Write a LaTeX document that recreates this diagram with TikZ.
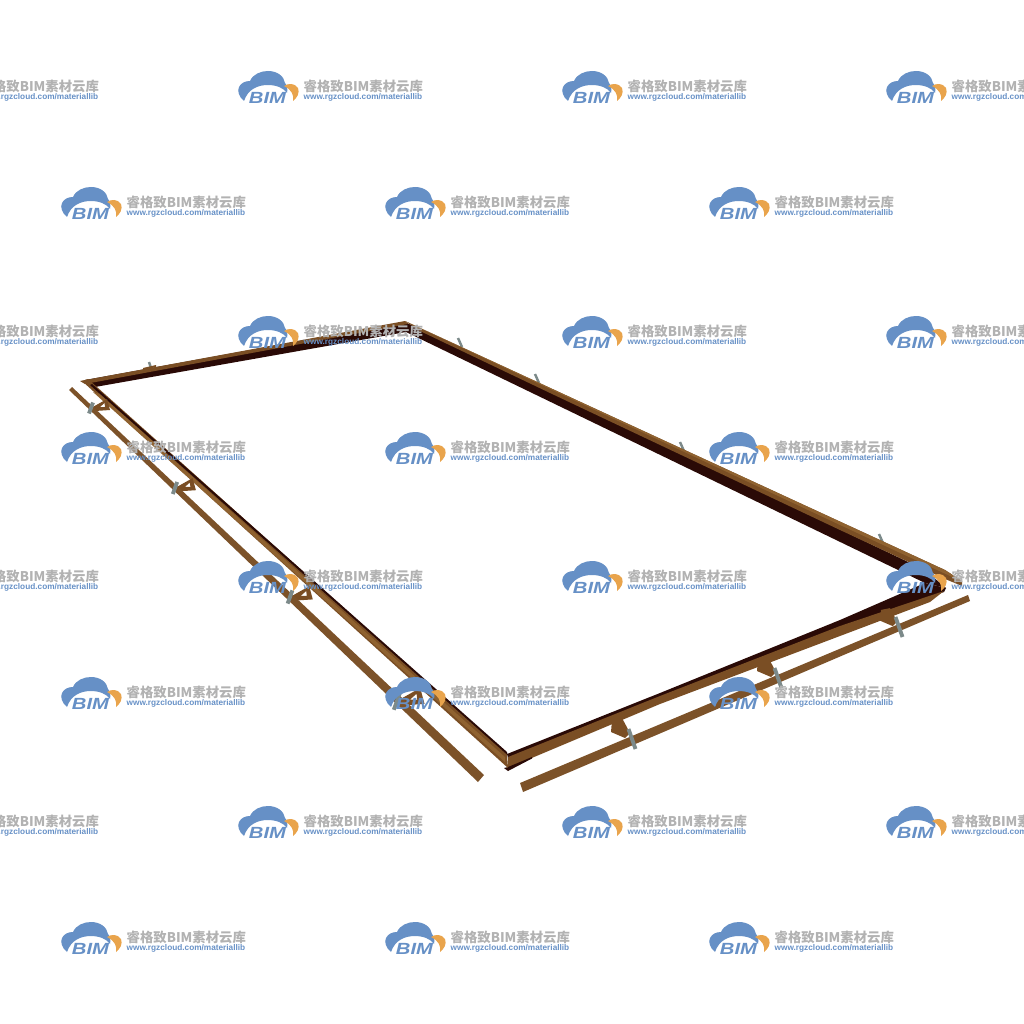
\documentclass[tikz,border=0pt]{standalone}
\usepackage{fontspec}
\newfontfamily\wmfont{Liberation Sans}
\newfontfamily\wmcjk{Noto Sans CJK SC}
\definecolor{beamdark}{HTML}{2A0A06}
\definecolor{beambrown}{HTML}{7A4E24}
\definecolor{beamlight}{HTML}{8F6230}
\definecolor{railbrown}{HTML}{7C5229}
\definecolor{boltgray}{HTML}{7C8A8A}
\definecolor{wmblue}{HTML}{6690C6}
\definecolor{wmorange}{HTML}{E9A44C}
\definecolor{wmgray}{HTML}{B2B2B2}
\tikzset{
  bolt/.style={draw=boltgray,line width=1.1pt},
  stub/.style={draw=boltgray,line width=.7pt},
  wmcn/.style={anchor=west,inner sep=0pt,text=wmgray,font=\wmcjk\bfseries\fontsize{3.8}{4}\selectfont},
  wmurl/.style={anchor=west,inner sep=0pt,text=wmblue,font=\wmfont\bfseries\fontsize{2.35}{3}\selectfont},
  wmbim/.style={inner sep=0pt,text=wmblue,xscale=1.25,font=\wmfont\bfseries\itshape\fontsize{4.6}{5}\selectfont},
  watermark/.pic={
    \fill[wmblue] (6,30) .. controls (1,26) and (-1,20) .. (1,16)
      .. controls (3,12) and (7,10) .. (12,10) .. controls (15,3) and (23,0) .. (30,0)
      .. controls (39,0) and (46,5) .. (47,12) .. controls (49,14) and (50,18) .. (49,22)
      .. controls (46,17) and (38,14) .. (30,14) .. controls (20,14) and (10,18) .. (6,30) -- cycle;
    \fill[wmorange] (46,15) .. controls (50,12) and (57,12) .. (60,17)
      .. controls (62,22) and (59,27) .. (55,30) .. controls (56,24) and (54,19) .. (46,15) -- cycle;
    \node[wmbim] (bim) at (29.5,27) {BIM};
    \node[wmcn] (cn) at (65,15.5) {睿格致BIM素材云库};
    \node[wmurl] (url) at (65,26) {www.rgzcloud.com/materiallib};
  }
}
\begin{document}
\begin{tikzpicture}[x=0.1mm,y=-0.1mm]
  \useasboundingbox (0,0) rectangle (1024,1024);
  \clip (0,0) rectangle (1024,1024);

  % stubs behind the far beams
  \draw[stub] (149,362) -- (151,368);
  \foreach \sx/\sy in {458/338,535/374,680/442,879/534}
    \draw[stub] (\sx,\sy) -- ++(4,9);

  % far beams
  \fill[beamdark] (85,380) -- (405,322) -- (925,570) -- (946,588) -- (925,583) -- (406,332) -- (95,387) -- cycle;
  \fill[beambrown] (80,381) -- (405,321) -- (408,324) -- (85,384) -- cycle;
  \fill[beambrown] (143,368) -- (156,365) -- (156,367) -- (143,370) -- cycle;
  \fill[beambrown] (405,321) -- (945,570) -- (962,581) -- (962,586) -- (945,579) -- (840,530) -- (550,393) -- (420,331) -- cycle;
  \fill[beamlight] (405,321) -- (945,570) -- (962,581) -- (950,576) -- (840,525) -- (550,389) -- cycle;

  % near beams
  \fill[beamdark] (925,583) -- (946,588) -- (944,592) -- (840,627) -- (660,697) -- (508,758) -- (507,754) -- (660,693) -- (840,620) -- cycle;
  \fill[beambrown] (508,757) -- (660,696) -- (840,626) -- (944,591) -- (930,602) -- (840,636) -- (660,704) -- (508,768) -- cycle;
  \fill[beamdark] (508,767) -- (532,757) -- (532,758.5) -- (508,771) -- (504,768) -- cycle;
  \fill[beambrown] (82,381) -- (88,379) -- (507,754) -- (508,768) -- cycle;
  \fill[beamlight] (93,392) -- (100,394) -- (505,757) -- (505,762) -- cycle;
  \fill[beamdark] (92,384) -- (507,752) -- (507.5,755) -- (90,385) -- cycle;

  % braces on the left
  \foreach \bx/\by/\bs in {91/408/1,175/488/1.1,290/597/1.2,397/701/1.45} {
    \begin{scope}[shift={(\bx,\by)},scale=\bs]
      \fill[beambrown,even odd rule] (0,0) -- (4,3) -- (19,2) -- (16,-9) -- cycle
        (9,-1) -- (14,-1) -- (13.5,-5) -- cycle;
    \end{scope}
  }

  % braces on the right
  \foreach \bx/\by/\bs in {632/739/1,778/678/1,899/627/.9} {
    \begin{scope}[shift={(\bx,\by)},scale=\bs]
      \fill[beambrown] (-20,-19) -- (-10,-21) -- (-2,-6) -- (-7,-1) -- (-21,-7) -- cycle;
    \end{scope}
  }

  % rails
  \fill[railbrown] (69,390) -- (72,387) -- (484,775) -- (478,782) -- cycle;
  \fill[railbrown] (520,783) -- (968,595) -- (970,601) -- (523,792) -- cycle;

  % bolts
  \foreach \bx/\by/\bs in {91/408/1,175/488/1.1,290/597/1.2,397/701/1.6}
    \draw[bolt] (\bx,\by) ++(-2*\bs,5.5*\bs) -- ++(4*\bs,-11*\bs);
  \foreach \bx/\by in {632/739,778/678,899/627}
    \draw[bolt] (\bx,\by) ++(-3.5,-10) -- ++(7,20);

  % watermark
  \foreach \wy in {71,316,561,806}
    \foreach \wx in {-86,238,562,886}
      \pic (wm\wx-\wy) at (\wx,\wy) {watermark};
  \foreach \wy in {187,432,677,922}
    \foreach \wx in {61,385,709}
      \pic (wm\wx-\wy) at (\wx,\wy) {watermark};
\end{tikzpicture}
\end{document}
